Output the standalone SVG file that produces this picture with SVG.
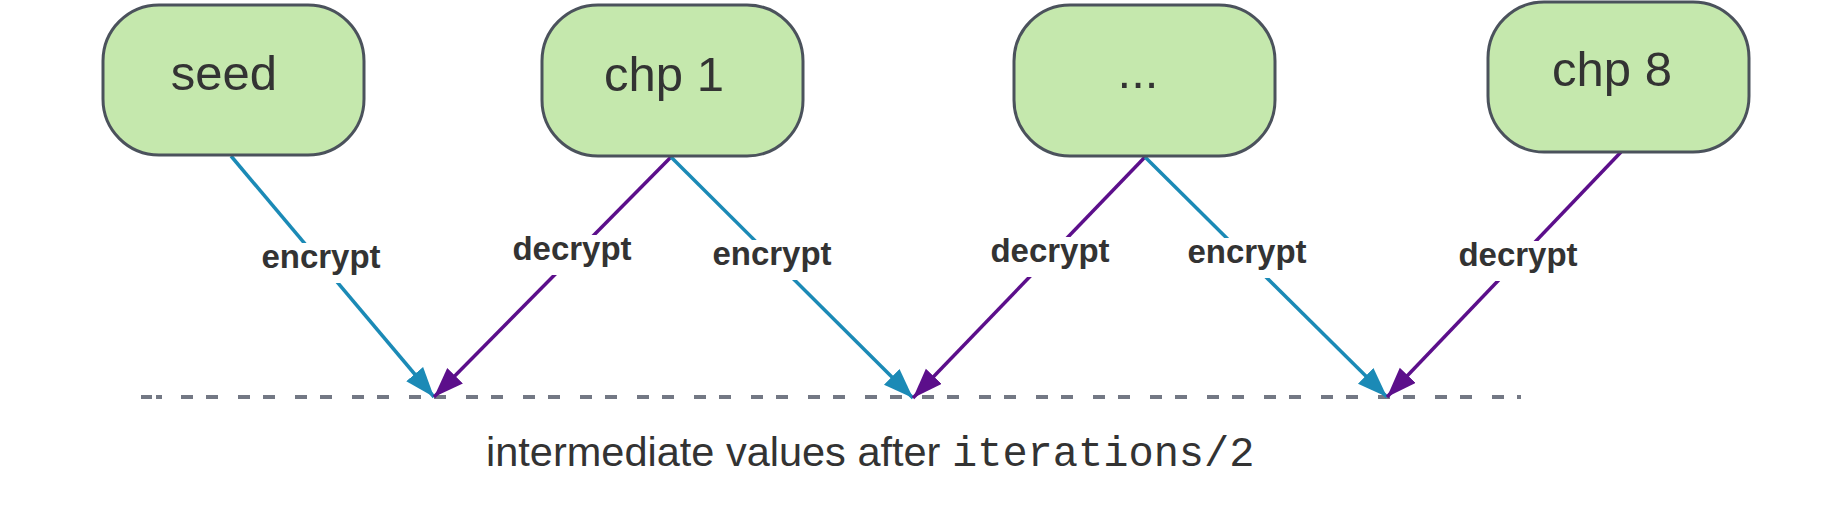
<svg xmlns="http://www.w3.org/2000/svg" width="1838" height="512" viewBox="0 0 1838 512">
<style>
.node rect{fill:#c5e8ad;stroke:#4b525c;stroke-width:3}
.node text{font-family:"Liberation Sans",Arial,sans-serif;font-size:49px;fill:#333;text-anchor:middle}
.enc{stroke:#1b8ab6;stroke-width:3.5;fill:none;marker-end:url(#ah-enc)}
.dec{stroke:#5c0f8b;stroke-width:3.5;fill:none;marker-end:url(#ah-dec)}
.lbl rect{fill:#fff}
.lbl text{font-family:"Liberation Sans",Arial,sans-serif;font-size:33px;font-weight:bold;fill:#333;text-anchor:middle}
.base{stroke:#737884;stroke-width:4;fill:none}
.dash{stroke-dasharray:12 13 12 20}
.caption{font-family:"Liberation Sans",Arial,sans-serif;font-size:41.5px;fill:#333}
.mono{font-family:"Liberation Mono","Courier New",monospace;font-size:42px}
</style>
<defs>
<marker id="ah-enc" markerUnits="userSpaceOnUse" markerWidth="32" markerHeight="24" refX="30" refY="11" orient="auto">
<path d="M0,0 L30,11 L0,22 z" fill="#1b8ab6"/>
</marker>
<marker id="ah-dec" markerUnits="userSpaceOnUse" markerWidth="32" markerHeight="24" refX="30" refY="11" orient="auto">
<path d="M0,0 L30,11 L0,22 z" fill="#5c0f8b"/>
</marker>
</defs>
<rect width="1838" height="512" fill="#fff"/>
<g id="baseline">
<line class="base" x1="141" y1="397" x2="152" y2="397"/>
<line class="base" x1="156" y1="397" x2="162" y2="397"/>
<line class="base dash" x1="181" y1="397" x2="1521" y2="397"/>
</g>
<g id="connectors">
<line class="enc" x1="231" y1="156" x2="434" y2="397"/>
<line class="dec" x1="671" y1="157" x2="434" y2="397"/>
<line class="enc" x1="671" y1="157" x2="913" y2="398"/>
<line class="dec" x1="1145" y1="157" x2="913" y2="398"/>
<line class="enc" x1="1145" y1="157" x2="1387" y2="397"/>
<line class="dec" x1="1621" y1="152" x2="1387" y2="397"/>
<g class="lbl">
<rect x="259" y="243" width="124" height="40"/><text x="321" y="268">encrypt</text>
<rect x="510" y="235" width="124" height="40"/><text x="572" y="260">decrypt</text>
<rect x="710" y="240" width="124" height="40"/><text x="772" y="265">encrypt</text>
<rect x="988" y="237" width="124" height="40"/><text x="1050" y="262">decrypt</text>
<rect x="1185" y="238" width="124" height="40"/><text x="1247" y="263">encrypt</text>
<rect x="1456" y="241" width="124" height="40"/><text x="1518" y="266">decrypt</text>
</g>
</g>
<g id="seed" class="node"><rect x="103" y="5" width="261" height="150" rx="56"/><text x="224" y="90">seed</text></g>
<g id="chp1" class="node"><rect x="542" y="5" width="261" height="151" rx="56"/><text x="664" y="91">chp 1</text></g>
<g id="ellipsis" class="node"><rect x="1014" y="5" width="261" height="151" rx="56"/><text x="1138" y="88">...</text></g>
<g id="chp8" class="node"><rect x="1488" y="2" width="261" height="150" rx="56"/><text x="1612" y="86">chp 8</text></g>
<text class="caption" x="486" y="466">intermediate values after <tspan class="mono" x="952">iterations/2</tspan></text>
</svg>
